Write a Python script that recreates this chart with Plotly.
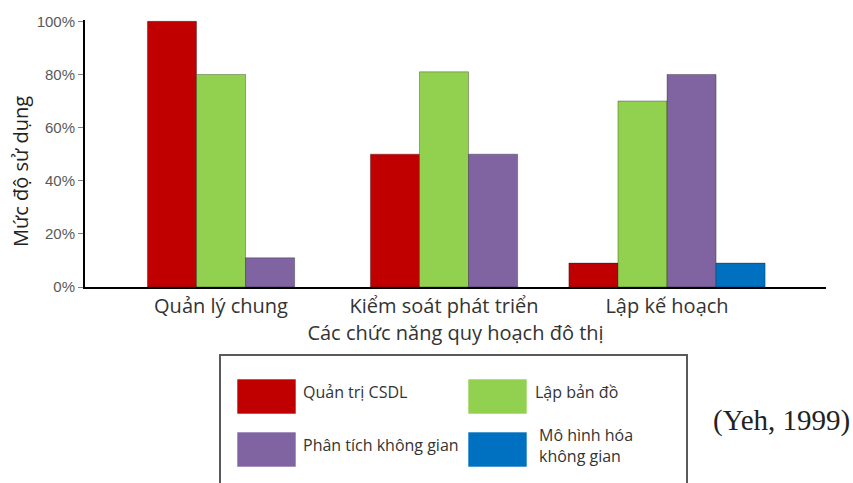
import plotly.graph_objects as go

# Urban planning functions and GIS usage levels (%)
categories = ["Quản lý chung", "Kiểm soát phát triển", "Lập kế hoạch"]
series_names = ["Quản trị CSDL", "Lập bản đồ", "Phân tích không gian", "Mô hình hóa<br>không gian"]
series_colors = ["#C00000", "#92D050", "#8064A2", "#0070C0"]
quan_tri_csdl = [100, 50, 9]
lap_ban_do = [80, 81, 70]
phan_tich_khong_gian = [11, 50, 80]
mo_hinh_hoa = [None, None, 9]
y_ticks = [0, 20, 40, 60, 80, 100]
y_tick_labels = ["0%", "20%", "40%", "60%", "80%", "100%"]

series_values = [quan_tri_csdl, lap_ban_do, phan_tich_khong_gian, mo_hinh_hoa]

W, H = 853, 483
ML, MR, MT, MB = 85, 27, 20, 196
PW, PH = W - ML - MR, H - MT - MB

bar_w = 0.22
SANS = "Open Sans, sans-serif"

# Centre the bars present in each category
offsets = [[0.0] * len(categories) for _ in series_values]
for j in range(len(categories)):
    present = [i for i, vals in enumerate(series_values) if vals[j] is not None]
    k = len(present)
    for m, i in enumerate(present):
        offsets[i][j] = -k * bar_w / 2 + m * bar_w

fig = go.Figure()
for name, color, vals, offs in zip(series_names, series_colors, series_values, offsets):
    fig.add_trace(go.Bar(
        x=categories, y=vals, name=name,
        width=bar_w, offset=offs,
        marker=dict(color=color, line=dict(color="rgba(0,0,0,0.3)", width=1)),
        showlegend=False,
    ))


def px(x):
    return (x - ML) / PW


def py(y):
    return (MT + PH - y) / PH


# Legend box and entries
shapes = [dict(type="rect", xref="paper", yref="paper",
               x0=px(220), x1=px(687), y0=py(492), y1=py(355),
               line=dict(color="#5a5a5a", width=2), fillcolor="rgba(0,0,0,0)")]
annotations = []
legend_slots = [(237, 379), (468, 379), (237, 432), (468, 432)]
text_x = [301, 533, 301, 537]
for (sx, sy), tx, name, color in zip(legend_slots, text_x, series_names, series_colors):
    shapes.append(dict(type="rect", xref="paper", yref="paper",
                       x0=px(sx), x1=px(sx + 59), y0=py(sy + 35), y1=py(sy),
                       line=dict(color="rgba(255,255,255,0.6)", width=1), fillcolor=color))
    annotations.append(dict(xref="paper", yref="paper", x=px(tx), y=py(sy + 13),
                            text=name, showarrow=False, xanchor="left", yanchor="middle",
                            align="left",
                            font=dict(family=SANS, size=16, color="#333333")))

# Y axis title
annotations.append(dict(xref="paper", yref="paper", x=px(20), y=py(172),
                        text="Mức độ sử dụng", textangle=-90, showarrow=False,
                        xanchor="center", yanchor="middle",
                        font=dict(family=SANS, size=20, color="#222222")))
# Source note
annotations.append(dict(xref="paper", yref="paper", x=px(781), y=py(420),
                        text="(Yeh, 1999)", showarrow=False,
                        xanchor="center", yanchor="middle",
                        font=dict(family="Liberation Serif, Times New Roman, serif", size=29,
                                  color="#222222")))

fig.update_layout(
    width=W, height=H,
    margin=dict(l=ML, r=MR, t=MT, b=MB, pad=0),
    paper_bgcolor="white", plot_bgcolor="white",
    barmode="overlay",
    shapes=shapes, annotations=annotations,
    xaxis=dict(
        type="category", range=[-0.61, 2.713],
        showline=True, linecolor="black", linewidth=2,
        ticks="", showgrid=False, zeroline=False,
        tickfont=dict(family=SANS, size=20, color="#333333"),
        title=dict(text="Các chức năng quy hoạch đô thị", standoff=0,
                   font=dict(family=SANS, size=20, color="#333333")),
    ),
    yaxis=dict(
        range=[0, 100.5], tickmode="array", tickvals=y_ticks, ticktext=y_tick_labels,
        showline=True, linecolor="black", linewidth=2,
        ticks="outside", ticklen=5, tickcolor="#808080", tickwidth=1,
        showgrid=False, zeroline=False,
        tickfont=dict(family="Liberation Sans Narrow, Liberation Sans, Arial, sans-serif",
                      size=15, color="#595959"),
    ),
)

fig.write_html("out.html")
